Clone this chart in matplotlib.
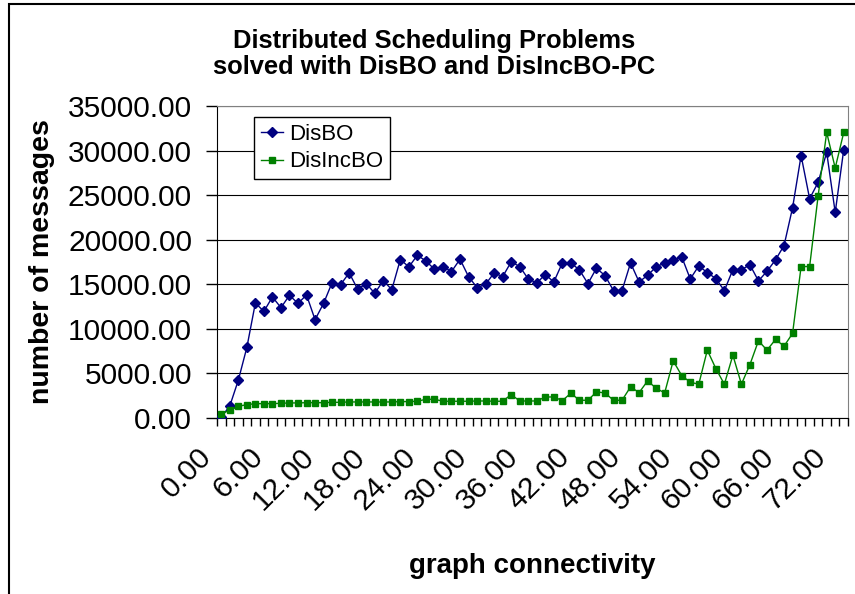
import matplotlib
matplotlib.use("Agg")
import matplotlib.pyplot as plt
import matplotlib.transforms as mtransforms
from matplotlib.patches import Rectangle
import numpy as np


connectivity = list(range(74))

disbo = [
    100, 1350, 4240, 7910, 12900, 11960, 13580, 12380, 13760, 12860,
    13800, 11030, 12860, 15190, 14960, 16280, 14440, 15080, 13990, 15410,
    14400, 17780, 16950, 18260, 17610, 16690, 16990, 16430, 17810, 15860,
    14630, 15000, 16280, 15860, 17510, 16990, 15600, 15150, 16090, 15260,
    17400, 17400, 16610, 15080, 16800, 15980, 14290, 14290, 17400, 15260,
    16010, 16950, 17400, 17740, 18080, 15600, 17060, 16310, 15640, 14290,
    16650, 16650, 17180, 15380, 16460, 17740, 19350, 23590, 29440, 24600,
    26440, 29810, 23060, 30110,
]

disincbo = [
    490, 860, 1310, 1500, 1610, 1610, 1610, 1650, 1690, 1690,
    1720, 1720, 1720, 1760, 1760, 1800, 1800, 1800, 1800, 1800,
    1800, 1840, 1840, 1880, 2100, 2100, 1880, 1880, 1880, 1880,
    1910, 1910, 1880, 1880, 2630, 1910, 1910, 1910, 2360, 2360,
    1950, 2780, 1990, 1990, 2930, 2810, 1990, 1990, 3490, 2850,
    4160, 3340, 2810, 6410, 4760, 4010, 3790, 7610, 5550, 3790,
    7050, 3790, 6000, 8660, 7610, 8810, 8060, 9490, 16990, 16990,
    24940, 32030, 28050, 32030,
]

y_ticks = [0, 5000, 10000, 15000, 20000, 25000, 30000, 35000]
label_step = 6

plt.rcParams['font.family'] = ['Liberation Sans', 'DejaVu Sans']

W, H = 855, 594
fig = plt.figure(figsize=(W / 100, H / 100), dpi=100)
ax = fig.add_axes([217 / W, 1 - 418 / H, 631 / W, 312 / H])

ax.plot(connectivity, disbo, color='#000080', lw=1.0, marker='D',
        markersize=4.8, label='DisBO', zorder=3)
ax.plot(connectivity, disincbo, color='#008000', lw=1.0, marker='s',
        markersize=4.4, label='DisIncBO', zorder=3)

# categories sit between tick marks
ax.set_xlim(-0.5, len(connectivity) - 0.5)
ax.set_ylim(y_ticks[0], y_ticks[-1])

ax.set_yticks(y_ticks)
ax.set_yticklabels(['%.2f' % v for v in y_ticks], fontsize=21.5)
ax.tick_params(axis='y', direction='out', length=8, width=1, pad=10,
               color='black')

x_major = connectivity[::label_step]
ax.set_xticks(x_major)
ax.set_xticklabels(['%.2f' % v for v in x_major], fontsize=21.5,
                   rotation=45, ha='right', va='center',
                   rotation_mode='anchor')
ax.set_xticks(np.arange(-0.5, len(connectivity), 1), minor=True)
ax.tick_params(axis='x', which='major', length=0, pad=25)
ax.tick_params(axis='x', which='minor', direction='out', length=6,
               width=1, color='black')

shift = mtransforms.ScaledTranslation(-14 / 100, 0, fig.dpi_scale_trans)
for lbl in ax.get_xticklabels():
    lbl.set_transform(lbl.get_transform() + shift)

ax.yaxis.grid(True, color='black', lw=0.8)
ax.set_axisbelow(True)
for side in ('top', 'right'):
    ax.spines[side].set_color('#808080')
for side in ('left', 'bottom'):
    ax.spines[side].set_color('black')

ax.set_ylabel('number of messages', fontsize=20.5, fontweight='bold')
ax.yaxis.label.set_va('center')
ax.yaxis.set_label_coords((42 - 217) / 631, 0.5)

ax.set_xlabel('graph connectivity', fontsize=20, fontweight='bold')
ax.xaxis.label.set_va('center')
ax.xaxis.set_label_coords(0.5, -(566 - 418) / 312)

fig.text(434 / W, 1 - 54 / H,
         'Distributed Scheduling Problems\nsolved with DisBO and DisIncBO-PC',
         ha='center', va='center', fontsize=18.4, fontweight='bold',
         linespacing=1.15)

leg = ax.legend(loc='upper left', bbox_to_anchor=(37 / 631, 1 - 11 / 312),
                borderaxespad=0, fontsize=16, fancybox=False,
                edgecolor='black', framealpha=1, numpoints=1,
                handlelength=1.0, handletextpad=0.3, borderpad=0.3,
                labelspacing=0.3)
leg.get_frame().set_linewidth(1.0)

# outer chart border, only left and top edges fall inside the image
fig.patches.append(Rectangle((9 / W, -0.5), 2, 1.5 - 4 / H,
                             transform=fig.transFigure, fill=False,
                             edgecolor='black', lw=1.5))

fig.savefig('out.png', dpi=100)
